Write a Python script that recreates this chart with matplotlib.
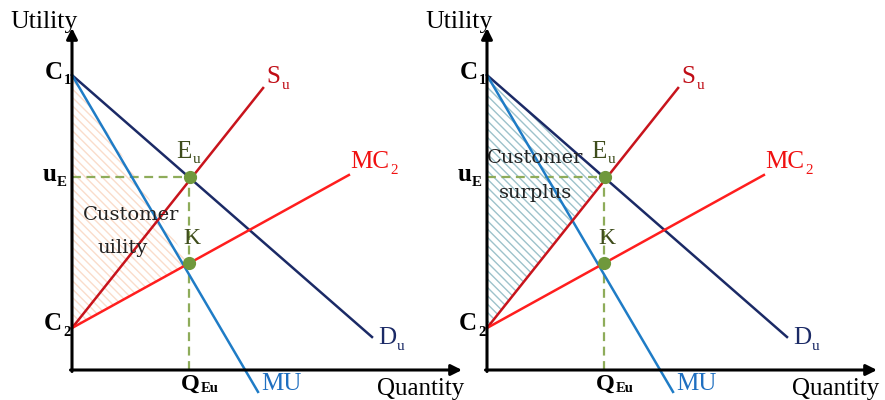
import matplotlib
matplotlib.use("Agg")
import matplotlib.pyplot as plt

plt.rcParams['font.family'] = ['Liberation Serif', 'DejaVu Serif']
plt.rcParams['hatch.linewidth'] = 1.0

# ---- data (quantity / utility units, origin at axes corner) ----
C1 = 9.83          # intercept of D_u and MU
C2 = 1.40          # intercept of S_u and MC2
E_u = [3.93, 6.43]  # equilibrium point (Q_Eu, u_E)
K_pt = [3.90, 3.57]
S_end = [6.37, 9.40]
MC2_end = [9.23, 6.50]
D_end = [10.00, 1.10]
MU_end = [6.20, -0.73]
x_axis_len = 13.0
y_axis_len = 11.4
panel_origin_px = [72, 487]     # left edge of each panel's y axis
panel_titles = [["Customer", "uility"], ["Customer", "surplus"]]
shade_kind = ["utility", "surplus"]

PX = 30.0   # pixels per unit
W, H = 885, 400
BASE_PX = 370

fig = plt.figure(figsize=(W / 100, H / 100), dpi=100)

c_navy = '#1b2a66'
c_blue = '#1f7cc6'
c_sred = '#c8141c'
c_red = '#ff1e1e'
c_green = '#6f983c'
c_dash = '#8eac5a'
c_olive = '#3f4d1c'


def lab(ax, x, y, main, sub, fs=18, color='black', weight='normal', ha='left', va='center',
        sub_dy=0.12):
    t = ax.text(x, y, main, fontsize=fs, color=color, fontweight=weight, ha=ha, va=va, zorder=7)
    if sub:
        ax.annotate(sub, xy=(1.0, sub_dy), xycoords=t, xytext=(0.8, 0),
                    textcoords='offset points', fontsize=fs * 0.6, color=color,
                    fontweight=weight, ha='left', va='center', zorder=8)
    return t


for i, ox in enumerate(panel_origin_px):
    ax = fig.add_axes([0, 0, 1, 1])
    ax.set_xlim(-ox / PX, (W - ox) / PX)
    ax.set_ylim(-(H - BASE_PX) / PX, BASE_PX / PX)
    ax.axis('off')
    ax.patch.set_alpha(0)

    # shaded region
    if shade_kind[i] == "utility":
        poly_x = [0, K_pt[0], 0]
        poly_y = [C1, K_pt[1], C2]
        hc = '#fadccb'
    else:
        poly_x = [0, E_u[0], 0]
        poly_y = [C1, E_u[1], C2]
        hc = '#9dc2cb'
    ax.fill(poly_x, poly_y, facecolor='white', edgecolor=hc, hatch='\\\\\\\\', lw=0, zorder=1)

    # dashed guides
    ax.plot([0, E_u[0]], [E_u[1], E_u[1]], ls=(0, (4, 2.5)), color=c_dash, lw=1.6, zorder=2)
    ax.plot([K_pt[0], K_pt[0]], [0, E_u[1]], ls=(0, (4, 2.5)), color=c_dash, lw=1.6, zorder=2)

    # curves
    ax.plot([0, D_end[0]], [C1, D_end[1]], color=c_navy, lw=1.8, zorder=3)
    ax.plot([0, MU_end[0]], [C1, MU_end[1]], color=c_blue, lw=1.8, zorder=3, clip_on=False)
    ax.plot([0, S_end[0]], [C2, S_end[1]], color=c_sred, lw=1.8, zorder=3)
    ax.plot([0, MC2_end[0]], [C2, MC2_end[1]], color=c_red, lw=1.8, zorder=3)

    # points
    ax.plot([E_u[0], K_pt[0]], [E_u[1], K_pt[1]], 'o', color=c_green, ms=8.5, zorder=5)

    # axes with arrows
    ax.annotate('', xy=(0, y_axis_len), xytext=(0, -0.05),
                arrowprops=dict(arrowstyle='-|>', lw=2.2, color='black', mutation_scale=16,
                                shrinkA=0, shrinkB=0), zorder=6)
    ax.annotate('', xy=(x_axis_len, 0), xytext=(-0.05, 0),
                arrowprops=dict(arrowstyle='-|>', lw=2.2, color='black', mutation_scale=16,
                                shrinkA=0, shrinkB=0), zorder=6)

    # axis titles
    ax.text(-0.93, 11.6, 'Utility', fontsize=18.5, ha='center', va='center', color='black')
    ax.text(11.63, -0.62, 'Quantity', fontsize=18, ha='center', va='center', color='black')

    # axis point labels
    lab(ax, -0.3, C1 + 0.1, 'C', '1', weight='bold', ha='right')
    lab(ax, -0.53, E_u[1] + 0.1, 'u', 'E', weight='bold', ha='right')
    lab(ax, -0.33, C2 + 0.15, 'C', '2', weight='bold', ha='right')
    lab(ax, K_pt[0] + 0.37, -0.14, 'Q', 'Eu', fs=17.5, weight='bold', ha='right', va='top',
        sub_dy=0.32)

    # point labels
    lab(ax, E_u[0] - 0.45, E_u[1] + 0.85, 'E', 'u', color=c_olive, ha='left')
    ax.text(K_pt[0] + 0.1, K_pt[1] + 0.45, 'K', fontsize=17, color=c_olive,
            ha='center', va='bottom')

    # curve labels
    lab(ax, S_end[0] + 0.12, S_end[1] + 0.37, 'S', 'u', color='#c00d16')
    lab(ax, MC2_end[0] + 0.05, MC2_end[1] + 0.43, 'MC', '2', color='#f01010')
    lab(ax, D_end[0] + 0.2, D_end[1] - 0.05, 'D', 'u', color=c_navy)
    ax.text(MU_end[0] + 0.1, -0.48, 'MU', fontsize=18, color='#1f6fc0',
            ha='left', va='center')

    # shaded region text
    ax.text(0.35 if i == 0 else 0.0, 5.17 if i == 0 else 7.07, panel_titles[i][0],
            fontsize=14, family='DejaVu Serif', color='#222222', ha='left', va='center')
    ax.text(1.7 if i == 0 else 1.6, 4.07 if i == 0 else 5.9, panel_titles[i][1],
            fontsize=14, family='DejaVu Serif', color='#222222', ha='center', va='center')

fig.savefig('out.png', dpi=100)
